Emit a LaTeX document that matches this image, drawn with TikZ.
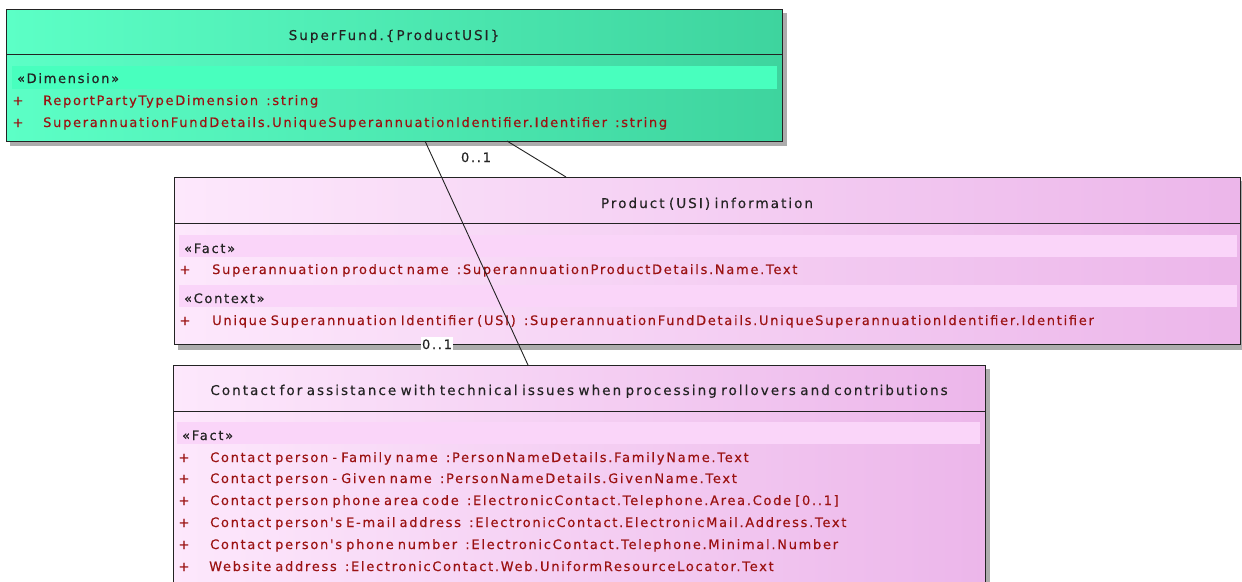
\documentclass[tikz,border=0pt]{standalone}
\usepackage{fontspec}
\newfontfamily\umlfont{DejaVu Sans}[LetterSpace=13.2,WordSpace=0.7,FakeBold=0.4]
\newfontfamily\umltitlefont{DejaVu Sans}[LetterSpace=15.2,WordSpace=0.7,FakeBold=0.3]
\definecolor{tealL}{RGB}{92,255,198}
\definecolor{tealR}{RGB}{62,212,158}
\definecolor{tealBand}{RGB}{72,255,190}
\definecolor{pinkL}{RGB}{253,232,252}
\definecolor{pinkR}{RGB}{236,182,234}
\definecolor{pinkBand}{RGB}{250,213,249}
\definecolor{attrred}{RGB}{155,18,18}
\definecolor{inkgray}{RGB}{35,35,35}
\definecolor{shadowgray}{RGB}{172,172,172}
\begin{document}
\begin{tikzpicture}[x=1pt,y=-1pt,
  font={\umlfont\fontsize{13pt}{15pt}\selectfont},
  umlbox/.style={draw=inkgray, line width=1pt, inner sep=0pt, anchor=north west},
  divider/.style={draw=inkgray, line width=1pt},
  txt/.style={inner sep=0pt, text height=10pt, text depth=0pt},
  ttl/.style={txt, text=inkgray, font={\umltitlefont\fontsize{13.5pt}{15pt}\selectfont}},
  ster/.style={txt, anchor=west, text=inkgray},
  attr/.style={txt, anchor=west, text=attrred},
  plus/.style={txt, text=attrred},
  conn/.style={draw=inkgray, line width=0.9pt},
  mult/.style={txt, fill=white, inner xsep=1pt, inner ysep=2pt, text=inkgray}
]
\clip (0,0) rectangle (1242,581);
\fill[white] (0,0) rectangle (1242,581);

% ---------- SuperFund box ----------
\fill[shadowgray] (10,13) rectangle (787,146);
\shade[left color=tealL, right color=tealR] (6,9) rectangle (782,141);
\fill[tealBand] (12,66) rectangle (777,89);
\node[umlbox, minimum width=776pt, minimum height=132pt] (super) at (6,9) {};
\draw[divider] (6,54) -- (782,54);
\node[ttl] (superT) at (394,35) {SuperFund.\{ProductUSI\}};
\node[ster] (superS) at (17,78) {«Dimension»};
\node[plus] (superP1) at (18,100) {+};
\node[attr] (superA1) at (43,100) {ReportPartyTypeDimension\ \ :string};
\node[plus] (superP2) at (18,122) {+};
\node[attr] (superA2) at (43,122) {SuperannuationFundDetails.UniqueSuperannuationIdentifier.Identifier\ \ :string};

% ---------- Product (USI) information box ----------
\fill[shadowgray] (178,181) rectangle (1246,350);
\shade[left color=pinkL, right color=pinkR] (174,177) rectangle (1240,344);
\fill[pinkBand] (179,235) rectangle (1237,257);
\fill[pinkBand] (179,285) rectangle (1237,307);
\node[umlbox, minimum width=1066pt, minimum height=167pt] (prod) at (174,177) {};
\draw[divider] (174,223) -- (1240,223);
\node[ttl] (prodT) at (707,203) {Product (USI) information};
\node[ster] (prodS1) at (184,248) {«Fact»};
\node[plus] (prodP1) at (185,269) {+};
\node[attr] (prodA1) at (212,269) {Superannuation product name\ \ :SuperannuationProductDetails.Name.Text};
\node[ster] (prodS2) at (184,298) {«Context»};
\node[plus] (prodP2) at (185,320) {+};
\node[attr] (prodA2) at (212,320) {Unique Superannuation Identifier (USI)\ \ :SuperannuationFundDetails.UniqueSuperannuationIdentifier.Identifier};

% ---------- Contact box ----------
\fill[shadowgray] (177,369) rectangle (990,600);
\shade[left color=pinkL, right color=pinkR] (173,365) rectangle (985,600);
\fill[pinkBand] (177,422) rectangle (980,444);
\node[umlbox, minimum width=812pt, minimum height=235pt] (contact) at (173,365) {};
\draw[divider] (173,411) -- (985,411);
\node[ttl] (contactT) at (579,390) {Contact for assistance with technical issues when processing rollovers and contributions};
\node[ster] (contactS) at (182,435) {«Fact»};
\node[plus] (cP1) at (184,457) {+};
\node[attr] (cA1) at (210,457) {Contact person - Family name\ \ :PersonNameDetails.FamilyName.Text};
\node[plus] (cP2) at (184,478) {+};
\node[attr] (cA2) at (210,478) {Contact person - Given name\ \ :PersonNameDetails.GivenName.Text};
\node[plus] (cP3) at (184,500) {+};
\node[attr] (cA3) at (210,500) {Contact person phone area code\ \ :ElectronicContact.Telephone.Area.Code [0..1]};
\node[plus] (cP4) at (184,522) {+};
\node[attr] (cA4) at (210,522) {Contact person's E-mail address\ \ :ElectronicContact.ElectronicMail.Address.Text};
\node[plus] (cP5) at (184,544) {+};
\node[attr] (cA5) at (210,544) {Contact person's phone number\ \ :ElectronicContact.Telephone.Minimal.Number};
\node[plus] (cP6) at (184,566) {+};
\node[attr] (cA6) at (209,566) {Website address\ \ :ElectronicContact.Web.UniformResourceLocator.Text};

% ---------- connectors ----------
\coordinate (e1a) at (425,141);
\coordinate (e1b) at (528,365);
\coordinate (e2a) at (507,141);
\coordinate (e2b) at (566,177);
\draw[conn] (e1a) -- (e1b);
\draw[conn] (e2a) -- (e2b);
\node[mult] (m1) at (476,157) {0..1};
\node[mult] (m2) at (437,344) {0..1};
\end{tikzpicture}
\end{document}
